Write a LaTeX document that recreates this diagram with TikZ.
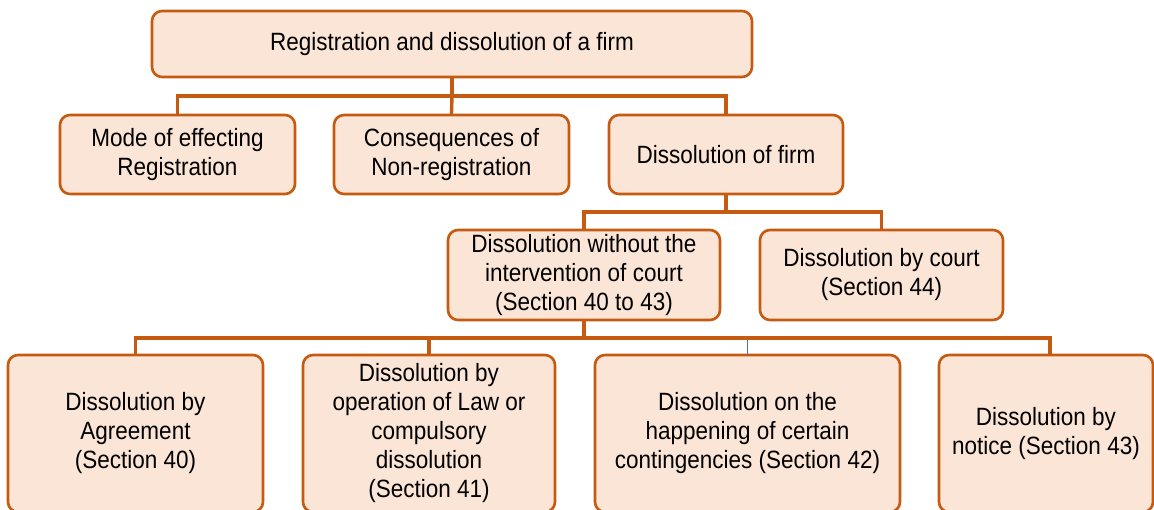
\documentclass[tikz,border=0pt]{standalone}
\usepackage{fontspec}
\setmainfont{Liberation Sans}[FakeStretch=0.9]
\usetikzlibrary{positioning}
\definecolor{firmFill}{HTML}{FBE5D6}
\definecolor{firmLine}{HTML}{C55A11}
\definecolor{firmBlue}{HTML}{4472C4}
\tikzset{
  firmbox/.style={draw=firmLine, fill=firmFill, line width=2.6pt, rounded corners=10pt,
    align=center, inner sep=0pt, font=\fontsize{25}{29}\selectfont},
  link/.style={draw=firmLine, line width=3.4pt}
}
\begin{document}
\begin{tikzpicture}[x=1pt, y=-1pt, line cap=rect]
  \useasboundingbox (0,0) rectangle (1154,509);

  % top and second row
  \node[firmbox, minimum width=600, minimum height=66] (firm) at (452,44) {Registration and dissolution of a firm};
  \node[firmbox, minimum width=235, minimum height=79] (mode) at (177.5,154.5) {Mode of effecting\\Registration};
  \node[firmbox, minimum width=235, minimum height=79] (conseq) at (451.5,154.5) {Consequences of\\Non-registration};
  \node[firmbox, minimum width=234, minimum height=79] (dissol) at (726,154.5) {Dissolution of firm};

  % third row
  \node[firmbox, minimum width=272, minimum height=90] (nocourt) at (584,275) {Dissolution without the\\intervention of court\\(Section 40 to 43)};
  \node[firmbox, minimum width=243, minimum height=90] (court) at (881.5,275) {Dissolution by court\\(Section 44)};

  % bottom row
  \node[firmbox, minimum width=255, minimum height=157] (agree) at (135.5,433.5) {Dissolution by\\Agreement\\(Section 40)};
  \node[firmbox, minimum width=252, minimum height=157] (law) at (429,433.5) {Dissolution by\\operation of Law or\\compulsory\\dissolution\\(Section 41)};
  \node[firmbox, minimum width=305, minimum height=157] (conting) at (747.5,433.5) {Dissolution on the\\happening of certain\\contingencies (Section 42)};
  \node[firmbox, minimum width=214, minimum height=157] (notice) at (1046,433.5) {Dissolution by\\notice (Section 43)};

  \coordinate (busA) at (452,96);
  \coordinate (busB) at (726,212);
  \coordinate (busC) at (584,338);

  \draw[link] (firm.south) -- (busA);
  \draw[link] (busA) -| (mode.north);
  \draw[link] (busA) -- (conseq.north);
  \draw[link] (busA) -| (dissol.north);

  \draw[link] (dissol.south) -- (busB);
  \draw[link] (busB) -| (nocourt.north);
  \draw[link] (busB) -| (court.north);

  \draw[firmBlue, line width=1.6pt] (busC -| conting.north) -- (conting.north);
  \draw[link] (nocourt.south) -- (busC);
  \draw[link] (busC) -| (agree.north);
  \draw[link] (busC) -| (law.north);
  \draw[link] (busC) -| ([xshift=4pt]notice.north);
\end{tikzpicture}
\end{document}
